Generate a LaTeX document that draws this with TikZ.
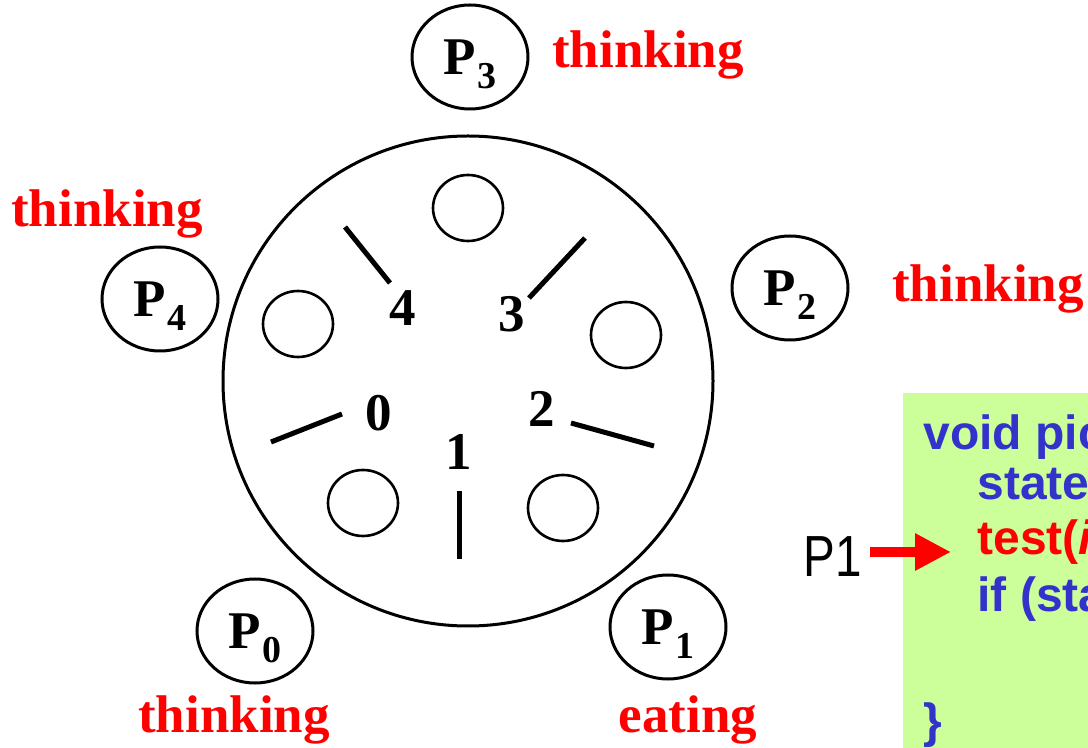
\documentclass[tikz,border=0pt]{standalone}
\usepackage{fontspec}
\setmainfont{Liberation Serif}
\newfontfamily\codefont{Liberation Sans}
\usetikzlibrary{arrows.meta,shapes.geometric}
\definecolor{codegreen}{HTML}{CCFF99}
\definecolor{codeblue}{HTML}{3333CC}
\definecolor{alertred}{HTML}{FF0000}
\newcommand{\phil}[1]{P\kern0.8pt\smash{\raisebox{-7pt}{\fontsize{19}{19}\selectfont #1}}}

\begin{document}
\begin{tikzpicture}[x=0.5pt,y=-0.5pt,>=Stealth,
  phil/.style={ellipse,draw,line width=1.5pt,minimum width=58pt,minimum height=52pt,inner sep=0pt,
    font=\fontsize{26.5}{30}\selectfont\bfseries},
  plate/.style={ellipse,draw,line width=1.3pt,minimum width=35pt,minimum height=33pt,inner sep=0pt},
  stick/.style={line width=2.5pt},
  num/.style={anchor=base,inner sep=0pt,font=\fontsize{26.5}{30}\selectfont\bfseries},
  statelbl/.style={anchor=base,inner sep=0pt,text=alertred,font=\fontsize{26.5}{30}\selectfont\bfseries},
  code/.style={anchor=base west,inner sep=0pt,text=codeblue,font=\codefont\fontsize{24}{28}\selectfont\bfseries}]
\useasboundingbox (0,0) rectangle (1088,748);
\clip (0,0) rectangle (1088,748);
\node[circle,draw,line width=1.5pt,minimum size=245pt,inner sep=0pt] (table) at (468,381) {};
\node[plate] (plate3) at (468,208) {};
\node[plate] (plate4) at (298,324) {};
\node[plate] (plate2) at (626,335) {};
\node[plate] (plate0) at (363,503) {};
\node[plate] (plate1) at (563,508) {};
\draw[stick] (271,442) -- (342,414);
\draw[stick] (459,491) -- (459,559);
\draw[stick] (571,423) -- (654,446);
\draw[stick] (585,238) -- (529,298);
\draw[stick] (345,227) -- (390,283);
\node[num] (n0) at (379,431) {0};
\node[num] (n1) at (459,470) {1};
\node[num] (n2) at (542,427) {2};
\node[num] (n3) at (512,332) {3};
\node[num] (n4) at (403,326) {4};
\node[phil] (p3) at (470,57) {\phil{3}};
\node[phil] (p2) at (790,288) {\phil{2}};
\node[phil] (p4) at (160,299) {\phil{4}};
\node[phil] (p0) at (255,631) {\phil{0}};
\node[phil] (p1) at (668,627) {\phil{1}};
\node[statelbl] (s3) at (648,68) {thinking};
\node[statelbl] (s4) at (107,227) {thinking};
\node[statelbl] (s2) at (988,302) {thinking};
\node[statelbl] (s0) at (234,733) {thinking};
\node[statelbl] (s1) at (688,733) {eating};
\fill[codegreen] (903,393) rectangle (1100,760);
\node[code] (c1) at (923,450) {void pic};
\node[code] (c2) at (977,500) {state};
\node[code,text=alertred] (c3) at (977,555) {test(\textit{i}};
\node[code] (c4) at (977,612) {if (sta};
\node[code] (c5) at (923,738) {\}};
\node[anchor=east,inner sep=4pt,font=\codefont\fontsize{29}{32}\selectfont] (caller) at (870,557) {\scalebox{0.82}[1]{P1}};
\coordinate (cur) at (951,552);
\draw[alertred,line width=5pt,-{Triangle[length=18pt,width=17.5pt]}] (caller.east |- cur) -- (cur);
\end{tikzpicture}
\end{document}
